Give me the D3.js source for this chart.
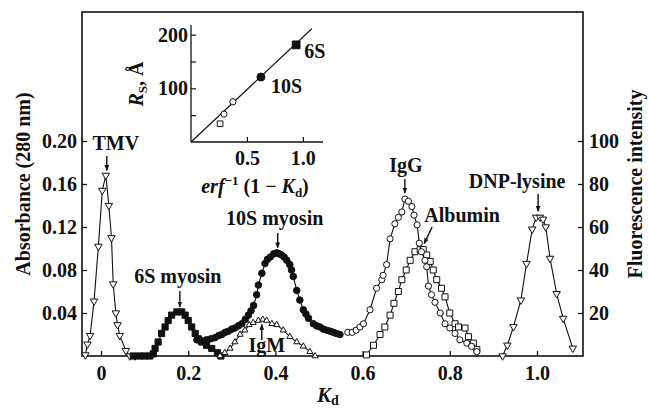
<!DOCTYPE html>
<html>
<head>
<meta charset="utf-8">
<script src="https://cdn.jsdelivr.net/npm/d3@7"></script>
<style>
  body { margin: 0; background: #fff; }
  svg text { font-family: "Liberation Serif", "Times New Roman", serif; font-weight: bold; fill: #111; }
</style>
</head>
<body>
<svg id="chart" width="648" height="410"></svg>
<script>
// elution profiles, [Kd, absorbance at 280 nm]
var tmvPoints = [[-0.036,0.001],[-0.031,0.011],[-0.025,0.019],[-0.016,0.051],[-0.006,0.102],[0.003,0.154],[0.011,0.168],
  [0.018,0.140],[0.024,0.110],[0.028,0.067],[0.034,0.040],[0.038,0.029],[0.043,0.019],[0.057,0.005],[0.066,0],[0.078,0]];
var myosin6sPoints = [[0.074,0],[0.088,0],[0.100,0],[0.112,0],[0.120,0.002],[0.124,0.007],[0.131,0.013],[0.139,0.021],
  [0.147,0.027],[0.154,0.033],[0.162,0.038],[0.174,0.041],[0.185,0.041],[0.193,0.038],[0.200,0.033],[0.208,0.027],
  [0.216,0.021],[0.223,0.016],[0.231,0.013],[0.242,0.010],[0.254,0.007],[0.267,0.003],[0.275,0]];
var myosin10sPoints = [[0.220,0.015],[0.232,0.014],[0.242,0.015],[0.252,0.016],[0.261,0.017],[0.270,0.019],[0.277,0.020],
  [0.285,0.022],[0.292,0.023],[0.300,0.025],[0.307,0.026],[0.315,0.028],[0.323,0.030],[0.331,0.034],[0.338,0.038],
  [0.344,0.042],[0.350,0.047],[0.357,0.057],[0.361,0.066],[0.369,0.077],[0.376,0.086],[0.382,0.090],[0.388,0.092],
  [0.396,0.095],[0.403,0.096],[0.409,0.095],[0.414,0.094],[0.420,0.092],[0.426,0.089],[0.433,0.085],[0.437,0.080],
  [0.441,0.074],[0.449,0.061],[0.456,0.052],[0.464,0.043],[0.470,0.039],[0.476,0.035],[0.487,0.030],[0.495,0.028],
  [0.502,0.027],[0.510,0.025],[0.518,0.024],[0.526,0.023],[0.533,0.022],[0.540,0.021],[0.548,0.020]];
var igmPoints = [[0.273,0],[0.284,0.003],[0.296,0.007],[0.307,0.013],[0.319,0.020],[0.330,0.024],[0.340,0.029],
  [0.349,0.031],[0.361,0.033],[0.371,0.034],[0.380,0.033],[0.392,0.030],[0.403,0.029],[0.418,0.024],[0.433,0.018],
  [0.449,0.013],[0.464,0.009],[0.479,0.004],[0.491,0]];
var iggPoints = [[0.566,0.022],[0.576,0.022],[0.585,0.024],[0.594,0.027],[0.602,0.030],[0.617,0.043],[0.632,0.063],
  [0.644,0.071],[0.647,0.075],[0.655,0.085],[0.663,0.109],[0.674,0.123],[0.682,0.129],[0.690,0.134],[0.697,0.146],
  [0.705,0.144],[0.713,0.139],[0.718,0.131],[0.725,0.122],[0.730,0.105],[0.735,0.097],[0.743,0.089],[0.747,0.083],
  [0.751,0.065],[0.758,0.057],[0.766,0.050],[0.778,0.040],[0.789,0.030],[0.800,0.026],[0.812,0.021],[0.823,0.015],
  [0.839,0.012],[0.850,0.009],[0.862,0.004]];
var albuminPoints = [[0.609,0.001],[0.625,0.010],[0.640,0.020],[0.651,0.027],[0.663,0.038],[0.672,0.049],[0.682,0.060],
  [0.690,0.071],[0.700,0.080],[0.709,0.089],[0.720,0.097],[0.732,0.099],[0.739,0.099],[0.747,0.094],[0.755,0.088],
  [0.762,0.080],[0.770,0.071],[0.781,0.063],[0.789,0.055],[0.800,0.040],[0.812,0.030],[0.820,0.027],[0.835,0.026],
  [0.843,0.018],[0.854,0.012],[0.862,0.006]];
// [Kd, fluorescence intensity]
var dnpLysinePoints = [[0.921,0],[0.932,5],[0.946,13.6],[0.963,26],[0.976,43],[0.989,59],[0.998,64.5],[1.007,64.5],
  [1.014,63.6],[1.020,60],[1.030,45.4],[1.045,29],[1.060,17.5],[1.082,3.6]];

// inset: Stokes radius vs erf^-1(1 - Kd)
var insetOpenSquare = [[0.26,34]];
var insetOpenCircles = [[0.295,52],[0.375,75]];
var insetFilledCircle = [[0.625,121]];
var insetFilledSquare = [[0.94,181]];
var insetFitLine = [[0,0],[1.08,211]];

var kdTicks = [0, 0.2, 0.4, 0.6, 0.8, 1.0];
var kdTickLabels = ["0", "0.2", "0.4", "0.6", "0.8", "1.0"];
var absTicks = [0.04, 0.08, 0.12, 0.16, 0.20];
var fluoTicks = [20, 40, 60, 80, 100];
var insetXTicks = [0.5, 1.0];
var insetYTicks = [50, 100, 150, 200];
var insetYLabels = [100, 200];

var svg = d3.select("#chart");

var frame = {left: 82, right: 583, top: 12, bottom: 356};
var x = d3.scaleLinear().domain([-0.0436, 1.1055]).range([frame.left, frame.right]);
var yAbs = d3.scaleLinear().domain([0, 0.32]).range([frame.bottom, frame.top]);
var yFluo = d3.scaleLinear().domain([0, 160]).range([frame.bottom, frame.top]);

// axes (ticks point inwards)
var xAxis = svg.append("g").attr("transform", "translate(0," + frame.bottom + ")")
  .call(d3.axisBottom(x).tickValues(kdTicks).tickSize(-5).tickPadding(10)
    .tickFormat(function(d, i){ return kdTickLabels[i]; }));
var leftAxis = svg.append("g").attr("transform", "translate(" + frame.left + ",0)")
  .call(d3.axisLeft(yAbs).tickValues(absTicks).tickSize(-5).tickPadding(5).tickFormat(d3.format(".2f")));
var rightAxis = svg.append("g").attr("transform", "translate(" + frame.right + ",0)")
  .call(d3.axisRight(yFluo).tickValues(fluoTicks).tickSize(-5).tickPadding(6));
[xAxis, leftAxis, rightAxis].forEach(function(g){
  g.select(".domain").remove();
  g.selectAll(".tick line").attr("stroke", "#111").attr("stroke-width", 1.3);
  g.selectAll(".tick text").attr("font-size", 20).attr("fill", "#111")
    .style("font-family", "'Liberation Serif', serif").style("font-weight", "bold");
});

svg.append("rect")
  .attr("x", frame.left).attr("y", frame.top)
  .attr("width", frame.right - frame.left).attr("height", frame.bottom - frame.top)
  .attr("fill", "none").attr("stroke", "#111").attr("stroke-width", 1.6);

// axis titles
svg.append("text").attr("transform", "translate(30,184) rotate(-90)")
  .attr("text-anchor", "middle").attr("font-size", 20).text("Absorbance (280 nm)");
svg.append("text").attr("transform", "translate(642,184) rotate(-90)")
  .attr("text-anchor", "middle").attr("font-size", 20).text("Fluorescence intensity");
var kdTitle = svg.append("text").attr("x", 317).attr("y", 402).attr("font-size", 21);
kdTitle.append("tspan").attr("font-style", "italic").text("K");
kdTitle.append("tspan").attr("font-size", 14).attr("dy", 3).text("d");

// series
function drawSeries(points, yScale, symbolType, symbolSize, filled, rotate){
  var line = d3.line().x(function(d){ return x(d[0]); }).y(function(d){ return yScale(d[1]); });
  svg.append("path").datum(points).attr("d", line)
    .attr("fill", "none").attr("stroke", "#111").attr("stroke-width", 1.1);
  var sym = d3.symbol().type(symbolType).size(symbolSize);
  svg.append("g").selectAll("path").data(points).enter().append("path")
    .attr("d", sym)
    .attr("transform", function(d){
      return "translate(" + x(d[0]) + "," + yScale(d[1]) + ")" + (rotate ? " rotate(180)" : "");
    })
    .attr("fill", filled ? "#111" : "#fff")
    .attr("stroke", "#111").attr("stroke-width", 1);
}

drawSeries(tmvPoints, yAbs, d3.symbolTriangle, 24, false, true);
drawSeries(myosin6sPoints, yAbs, d3.symbolSquare, 38, true, false);
drawSeries(igmPoints, yAbs, d3.symbolTriangle, 16, false, false);
drawSeries(myosin10sPoints, yAbs, d3.symbolCircle, 34, true, false);
drawSeries(albuminPoints, yAbs, d3.symbolSquare, 36, false, false);
drawSeries(iggPoints, yAbs, d3.symbolCircle, 30, false, false);
drawSeries(dnpLysinePoints, yFluo, d3.symbolTriangle, 24, false, true);

// peak labels with arrows
var defs = svg.append("defs");
defs.append("marker").attr("id", "head").attr("viewBox", "0 0 10 10")
  .attr("refX", 9).attr("refY", 5).attr("markerWidth", 6).attr("markerHeight", 6)
  .attr("orient", "auto").attr("markerUnits", "userSpaceOnUse")
  .append("path").attr("d", "M0,1 L10,5 L0,9 Z").attr("fill", "#111");

function peakOf(points){
  return points.reduce(function(a, b){ return b[1] > a[1] ? b : a; });
}
function arrow(x1, y1, x2, y2){
  svg.append("line").attr("x1", x1).attr("y1", y1).attr("x2", x2).attr("y2", y2)
    .attr("stroke", "#111").attr("stroke-width", 1.4).attr("marker-end", "url(#head)");
}
function label(text, lx, ly){
  svg.append("text").attr("x", lx).attr("y", ly).attr("text-anchor", "middle")
    .attr("font-size", 20).text(text);
}

var p = peakOf(tmvPoints);
arrow(x(p[0]) + 1, 156, x(p[0]) + 1, yAbs(p[1]) - 5);
label("TMV", x(p[0]) + 10, 150);

p = peakOf(myosin6sPoints);
arrow(x(p[0]) + 3, 291, x(p[0]) + 3, yAbs(p[1]) - 5);
label("6S myosin", x(p[0]) + 1, 283);

p = peakOf(myosin10sPoints);
arrow(x(p[0]) + 1, 233, x(p[0]) + 1, yAbs(p[1]) - 5);
label("10S myosin", x(p[0]) - 2, 225);

p = peakOf(igmPoints);
arrow(x(p[0]) - 1, 340, x(p[0]) - 1, yAbs(p[1]) + 5);
label("IgM", x(p[0]) + 4, 352);

p = peakOf(iggPoints);
arrow(x(p[0]), 179, x(p[0]), yAbs(p[1]) - 6);
label("IgG", x(p[0]) + 1, 172);

p = peakOf(albuminPoints);
arrow(x(p[0]) + 12, 227, x(p[0]) + 4, yAbs(p[1]) - 6);
label("Albumin", x(p[0]) + 42, 222);

p = peakOf(dnpLysinePoints);
arrow(x(p[0]) + 2, 194, x(p[0]) + 2, yFluo(p[1]) - 6);
label("DNP-lysine", x(p[0]) - 19, 188);

// inset plot
var ix = d3.scaleLinear().domain([0, 1.18]).range([191, 323]);
var iy = d3.scaleLinear().domain([0, 218]).range([142, 25]);

var insetX = svg.append("g").attr("transform", "translate(0," + iy(0) + ")")
  .call(d3.axisBottom(ix).tickValues(insetXTicks).tickSize(-5).tickPadding(9).tickFormat(d3.format(".1f")));
var insetY = svg.append("g").attr("transform", "translate(" + ix(0) + ",0)")
  .call(d3.axisLeft(iy).tickValues(insetYTicks).tickSize(-5).tickPadding(3)
    .tickFormat(function(d){ return insetYLabels.indexOf(d) >= 0 ? d : ""; }));
[insetX, insetY].forEach(function(g){
  g.select(".domain").attr("stroke", "#111").attr("stroke-width", 1.3)
    .attr("d", g === insetX ? "M" + ix(0) + ",0H" + ix(1.18) : "M0," + iy(0) + "V" + iy(218));
  g.selectAll(".tick line").attr("stroke", "#111").attr("stroke-width", 1.2);
  g.selectAll(".tick text").attr("font-size", 20).attr("fill", "#111")
    .style("font-family", "'Liberation Serif', serif").style("font-weight", "bold");
});

var insetLine = d3.line().x(function(d){ return ix(d[0]); }).y(function(d){ return iy(d[1]); });
svg.append("path").datum(insetFitLine).attr("d", insetLine)
  .attr("fill", "none").attr("stroke", "#111").attr("stroke-width", 1.2);

function insetMarks(points, symbolType, size, filled){
  svg.append("g").selectAll("path").data(points).enter().append("path")
    .attr("d", d3.symbol().type(symbolType).size(size))
    .attr("transform", function(d){ return "translate(" + ix(d[0]) + "," + iy(d[1]) + ")"; })
    .attr("fill", filled ? "#111" : "#fff").attr("stroke", "#111").attr("stroke-width", 1);
}
insetMarks(insetOpenSquare, d3.symbolSquare, 32, false);
insetMarks(insetOpenCircles, d3.symbolCircle, 30, false);
insetMarks(insetFilledCircle, d3.symbolCircle, 50, true);
insetMarks(insetFilledSquare, d3.symbolSquare, 60, true);

svg.append("text").attr("x", ix(insetFilledSquare[0][0]) + 8).attr("y", iy(insetFilledSquare[0][1]) + 13)
  .attr("font-size", 20).text("6S");
svg.append("text").attr("x", ix(insetFilledCircle[0][0]) + 10).attr("y", iy(insetFilledCircle[0][1]) + 16)
  .attr("font-size", 20).text("10S");

var rsTitle = svg.append("text").attr("transform", "translate(143,84) rotate(-90)")
  .attr("text-anchor", "middle").attr("font-size", 20);
rsTitle.append("tspan").attr("font-style", "italic").text("R");
rsTitle.append("tspan").attr("font-size", 13).attr("dy", 4).text("S");
rsTitle.append("tspan").attr("dy", -4).text(", \u00c5");

var erfTitle = svg.append("text").attr("x", 255).attr("y", 193).attr("text-anchor", "middle").attr("font-size", 20);
erfTitle.append("tspan").attr("font-style", "italic").text("erf");
erfTitle.append("tspan").attr("font-size", 13).attr("dy", -8).text("\u22121");
erfTitle.append("tspan").attr("dy", 8).text(" (1 \u2212 ");
erfTitle.append("tspan").attr("font-style", "italic").text("K");
erfTitle.append("tspan").attr("font-size", 13).attr("dy", 4).text("d");
erfTitle.append("tspan").attr("dy", -4).text(")");
</script>
</body>
</html>
